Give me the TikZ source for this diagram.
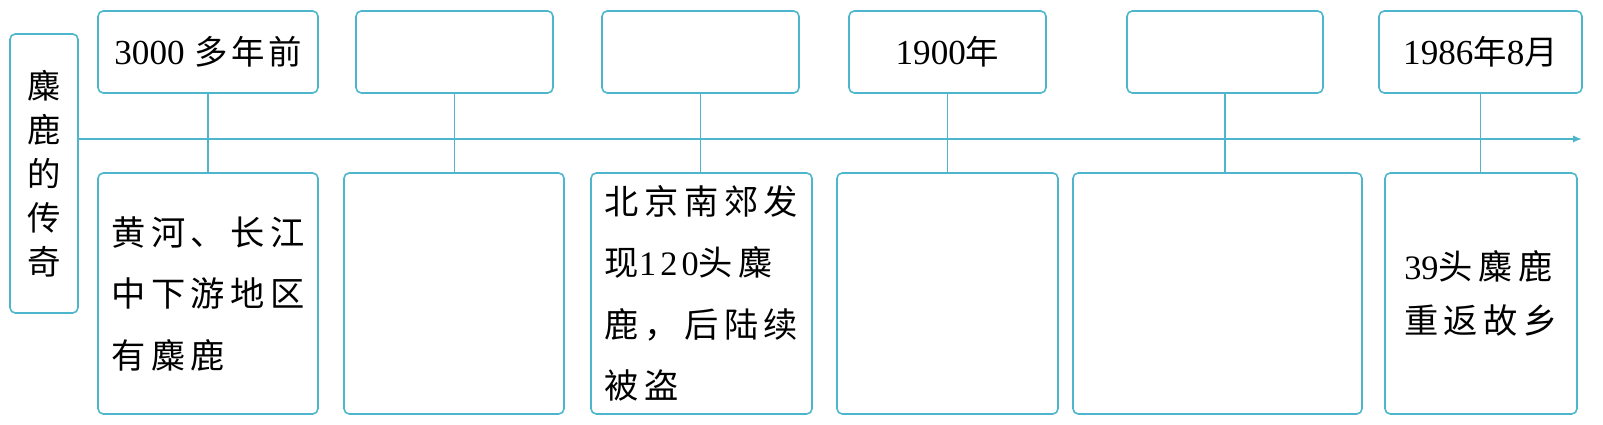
\documentclass[tikz,border=0pt]{standalone}
\usepackage{fontspec}
\setmainfont{Liberation Serif}
\newfontfamily\cjk[LetterSpace=16]{Noto Sans CJK SC}
\newfontfamily\cjkdate[LetterSpace=10]{Noto Sans CJK SC}
\newfontfamily\digits[LetterSpace=12]{Liberation Serif}
\newcommand\yr[1]{{\rmfamily\fontsize{20}{22}\selectfont #1}}
\usetikzlibrary{arrows.meta}
\definecolor{lineblue}{RGB}{78,182,204}

\begin{document}
\begin{tikzpicture}[
  line width=0.9pt,
  every node/.style={draw=lineblue, rounded corners=3pt, inner sep=0pt},
  datebox/.style={minimum height=1.64cm, font=\cjkdate\fontsize{19}{22}\selectfont},
  eventbox/.style={minimum height=4.82cm, align=left, font=\cjk\fontsize{19.5}{35}\selectfont},
  titlebox/.style={minimum width=1.36cm, minimum height=5.58cm, align=center, font=\cjkdate\fontsize{19}{25}\selectfont}
]
\useasboundingbox (0,0) rectangle (32.06,8.5);
\node[titlebox] (title) at (0.88,5.03) {麋\\鹿\\的\\传\\奇};

\node[datebox, minimum width=4.40cm] (t1) at (4.16,7.46) {\yr{3000}\hspace{0.3em}多年前};
\node[datebox, minimum width=3.94cm] (t2) at (9.09,7.46) {};
\node[datebox, minimum width=3.94cm] (t3) at (14.01,7.46) {};
\node[datebox, minimum width=3.94cm] (t4) at (18.95,7.46) {\yr{1900}年};
\node[datebox, minimum width=3.92cm] (t5) at (24.50,7.46) {};
\node[datebox, minimum width=4.06cm] (t6) at (29.61,7.46) {\yr{1986}年\yr{8}月};

\node[eventbox, minimum width=4.40cm] (b1) at (4.16,2.63) {黄河、长江\\中下游地区\\有麋鹿};
\node[eventbox, minimum width=4.40cm] (b2) at (9.08,2.63) {};
\node[eventbox, minimum width=4.42cm] (b3) at (14.03,2.63) {北京南郊发\\现{\digits 120}头麋\\鹿，后陆续\\被盗};
\node[eventbox, minimum width=4.42cm] (b4) at (18.95,2.63) {};
\node[eventbox, minimum width=5.78cm] (b5) at (24.35,2.63) {};
\node[eventbox, minimum width=3.84cm, font=\cjk\fontsize{19.5}{31}\selectfont] (b6) at (29.62,2.63) {{\rmfamily 39}头麋鹿\\重返故乡};

\coordinate (axisend) at (31.64,5.72);
\draw[lineblue, -{Latex[length=5pt,width=4pt]}] (title.east |- axisend) -- (axisend);
\foreach \i in {1,...,6}
  \draw[lineblue] (t\i.south) -- (t\i.south |- b\i.north);
\end{tikzpicture}
\end{document}
